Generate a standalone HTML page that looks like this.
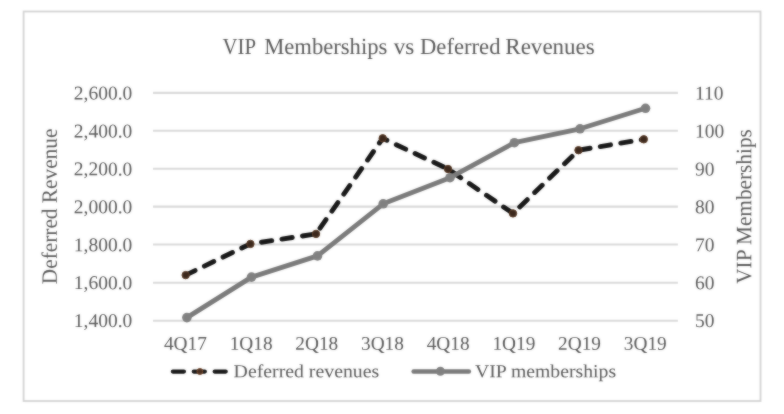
<!DOCTYPE html>
<html>
<head>
<meta charset="utf-8">
<title>VIP Memberships vs Deferred Revenues</title>
<style>
  html, body { margin: 0; padding: 0; background: #ffffff; }
  body { width: 784px; height: 414px; overflow: hidden; font-family: "Liberation Serif", serif; }
  svg { display: block; }
  text { font-family: "Liberation Serif", serif; fill: #595959; }
</style>
</head>
<body>
<svg width="784" height="414" viewBox="0 0 784 414">
  <defs>
    <filter id="soft" x="-2%" y="-2%" width="104%" height="104%" color-interpolation-filters="sRGB"><feGaussianBlur in="SourceGraphic" stdDeviation="0.9" result="b"/><feComposite in="SourceGraphic" in2="b" operator="arithmetic" k1="0" k2="0.5" k3="0.5" k4="0"/></filter>
  </defs>
  <rect x="0" y="0" width="784" height="414" fill="#ffffff"/>
  <g filter="url(#soft)">
  <!-- chart frame -->
  <rect x="23.6" y="11.5" width="736.9" height="389.5" fill="#ffffff" stroke="#d3d3d3" stroke-width="1.8"/>

  <!-- gridlines -->
  <g stroke="#d9d9d9" stroke-width="2.1" fill="none">
    <line x1="153" x2="677.9" y1="92.9" y2="92.9"/>
    <line x1="153" x2="677.9" y1="130.8" y2="130.8"/>
    <line x1="153" x2="677.9" y1="168.8" y2="168.8"/>
    <line x1="153" x2="677.9" y1="206.6" y2="206.6"/>
    <line x1="153" x2="677.9" y1="244.5" y2="244.5"/>
    <line x1="153" x2="677.9" y1="282.7" y2="282.7"/>
    <line x1="153" x2="677.9" y1="320.8" y2="320.8"/>
  </g>
  <!-- title -->
  <g font-size="23.1">
    <text transform="translate(222.45,54.0) matrix(1 0.0006 0 1 0 0)" textLength="33.5" lengthAdjust="spacingAndGlyphs">VIP</text>
    <text transform="translate(264.15,54.0) matrix(1 0.0006 0 1 0 0)" textLength="123.15" lengthAdjust="spacingAndGlyphs">Memberships</text>
    <text transform="translate(393.7,54.0) matrix(1 0.0006 0 1 0 0)" textLength="20.5" lengthAdjust="spacingAndGlyphs">vs</text>
    <text transform="translate(420.0,54.0) matrix(1 0.0006 0 1 0 0)" textLength="80.45" lengthAdjust="spacingAndGlyphs">Deferred</text>
    <text transform="translate(505.3,54.0) matrix(1 0.0006 0 1 0 0)" textLength="89.5" lengthAdjust="spacingAndGlyphs">Revenues</text>
  </g>
  <!-- left axis tick labels -->
  <g font-size="19.5" text-anchor="end">
    <text transform="translate(132.3,99.55) matrix(1 0.0006 0 1 0 0)">2,600.0</text>
    <text transform="translate(132.3,137.47) matrix(1 0.0006 0 1 0 0)">2,400.0</text>
    <text transform="translate(132.3,175.39) matrix(1 0.0006 0 1 0 0)">2,200.0</text>
    <text transform="translate(132.3,213.31) matrix(1 0.0006 0 1 0 0)">2,000.0</text>
    <text transform="translate(132.3,251.23) matrix(1 0.0006 0 1 0 0)">1,800.0</text>
    <text transform="translate(132.3,289.15) matrix(1 0.0006 0 1 0 0)">1,600.0</text>
    <text transform="translate(132.3,327.07) matrix(1 0.0006 0 1 0 0)">1,400.0</text>
  </g>
  <!-- right axis tick labels -->
  <g font-size="19.5" text-anchor="start">
    <text transform="translate(695.0,99.55) matrix(1 0.0006 0 1 0 0)">110</text>
    <text transform="translate(695.0,137.47) matrix(1 0.0006 0 1 0 0)">100</text>
    <text transform="translate(695.0,175.39) matrix(1 0.0006 0 1 0 0)">90</text>
    <text transform="translate(695.0,213.31) matrix(1 0.0006 0 1 0 0)">80</text>
    <text transform="translate(695.0,251.23) matrix(1 0.0006 0 1 0 0)">70</text>
    <text transform="translate(695.0,289.15) matrix(1 0.0006 0 1 0 0)">60</text>
    <text transform="translate(695.0,327.07) matrix(1 0.0006 0 1 0 0)">50</text>
  </g>
  <!-- x axis labels -->
  <g font-size="19.3" text-anchor="middle">
    <text transform="translate(185.4,349.7) matrix(1 0.0006 0 1 0 0)">4Q17</text>
    <text transform="translate(251.09,349.7) matrix(1 0.0006 0 1 0 0)">1Q18</text>
    <text transform="translate(316.78,349.7) matrix(1 0.0006 0 1 0 0)">2Q18</text>
    <text transform="translate(382.47,349.7) matrix(1 0.0006 0 1 0 0)">3Q18</text>
    <text transform="translate(448.16,349.7) matrix(1 0.0006 0 1 0 0)">4Q18</text>
    <text transform="translate(513.85,349.7) matrix(1 0.0006 0 1 0 0)">1Q19</text>
    <text transform="translate(579.54,349.7) matrix(1 0.0006 0 1 0 0)">2Q19</text>
    <text transform="translate(645.23,349.7) matrix(1 0.0006 0 1 0 0)">3Q19</text>
  </g>
  <!-- axis titles -->
    <text transform="translate(56.7,284.2) rotate(-90) matrix(1 0.0006 0 1 0 0)" font-size="21.8" textLength="155.6" lengthAdjust="spacingAndGlyphs">Deferred Revenue</text>
    <text transform="translate(751.2,283.8) rotate(-90) matrix(1 0.0006 0 1 0 0)" font-size="22" textLength="154.6" lengthAdjust="spacingAndGlyphs">VIP Memberships</text>
  <!-- Deferred revenues (dashed) -->
  <polyline fill="none" stroke="#161616" stroke-width="4.9" stroke-linecap="round" stroke-linejoin="round" stroke-dasharray="10.4 10.35" points="185.7,275.1 250.4,243.9 316.0,233.9 382.7,138.3 448.0,169.0 513.0,213.4 578.5,150.2 643.8,139.3"/>
  <g fill="#3c281c" stroke="#5a3a24" stroke-width="1.0">
    <circle cx="185.7" cy="275.1" r="3.7"/>
    <circle cx="250.4" cy="243.9" r="3.7"/>
    <circle cx="316.0" cy="233.9" r="3.7"/>
    <circle cx="382.7" cy="138.3" r="3.7"/>
    <circle cx="448.0" cy="169.0" r="3.7"/>
    <circle cx="513.0" cy="213.4" r="3.7"/>
    <circle cx="578.5" cy="150.2" r="3.7"/>
    <circle cx="643.8" cy="139.3" r="3.7"/>
  </g>
  <!-- VIP memberships (solid grey) -->
  <polyline fill="none" stroke="#7a7a7a" stroke-width="4.8" stroke-linecap="round" stroke-linejoin="round" points="186.9,317.6 251.5,277.1 317.5,255.9 383.2,203.8 450.0,177.7 514.4,142.7 580.0,128.8 645.5,108.3"/>
  <g fill="#808080" stroke="none">
    <circle cx="186.9" cy="317.6" r="4.8"/>
    <circle cx="251.5" cy="277.1" r="4.8"/>
    <circle cx="317.5" cy="255.9" r="4.8"/>
    <circle cx="383.2" cy="203.8" r="4.8"/>
    <circle cx="450.0" cy="177.7" r="4.8"/>
    <circle cx="514.4" cy="142.7" r="4.8"/>
    <circle cx="580.0" cy="128.8" r="4.8"/>
    <circle cx="645.5" cy="108.3" r="4.8"/>
  </g>
  <!-- legend -->
  <line x1="172.9" x2="226.2" y1="371.6" y2="371.6" stroke="#161616" stroke-width="4.3" stroke-linecap="round" stroke-dasharray="11 9.9"/>
  <circle cx="199.9" cy="371.5" r="3.0" fill="#4a2f20" stroke="#74482c" stroke-width="1"/>
    <text transform="translate(233.6,377.2) matrix(1 0.0006 0 1 0 0)" font-size="18.4" textLength="145.6" lengthAdjust="spacingAndGlyphs">Deferred revenues</text>
  <line x1="413.6" x2="468.9" y1="371.5" y2="371.5" stroke="#7a7a7a" stroke-width="4.4" stroke-linecap="round"/>
  <circle cx="440.4" cy="371.3" r="4.5" fill="#808080"/>
    <text transform="translate(474.9,377.2) matrix(1 0.0006 0 1 0 0)" font-size="18.4" textLength="141.2" lengthAdjust="spacingAndGlyphs">VIP memberships</text>
  </g>
</svg>
</body>
</html>
